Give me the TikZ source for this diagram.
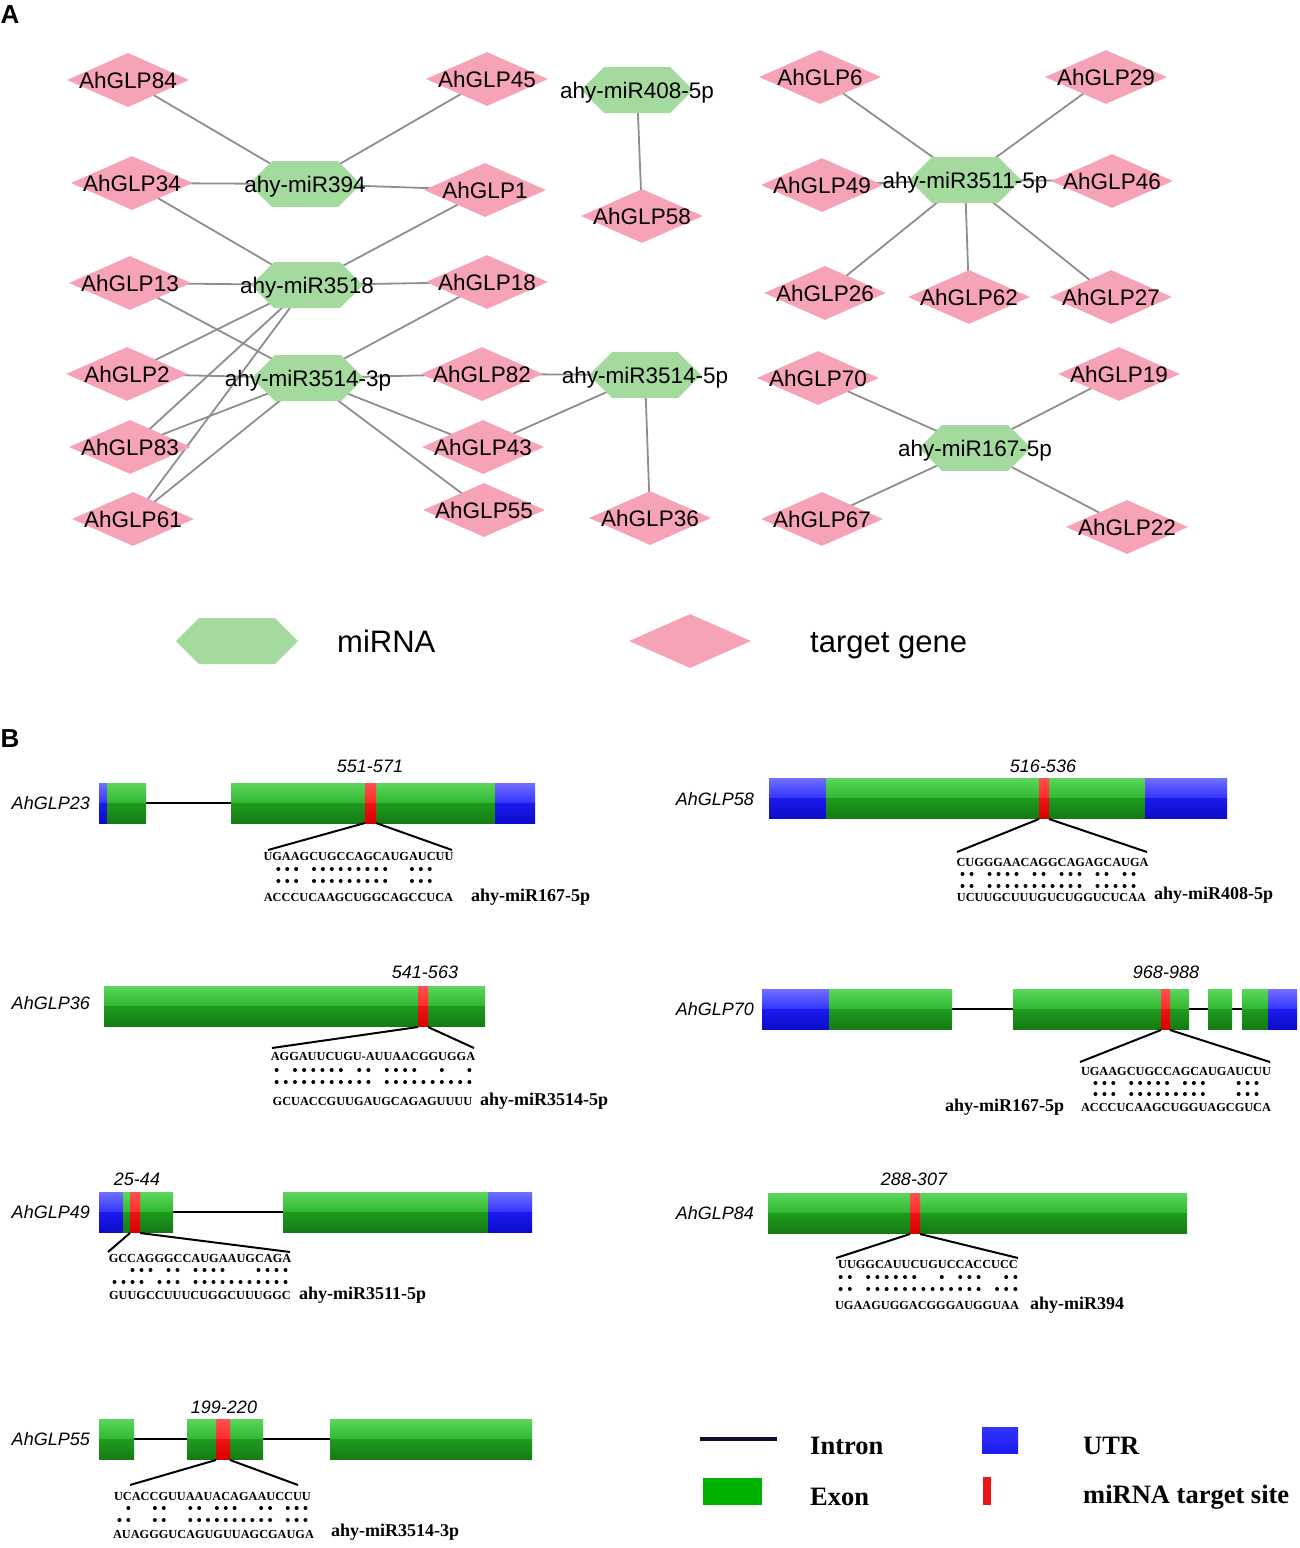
\documentclass[tikz,border=0pt]{standalone}
\usepackage{fontspec}
\setmainfont{Liberation Serif}
\setsansfont{Liberation Sans}
\usetikzlibrary{shapes.geometric,shapes.symbols}
\definecolor{pinkd}{HTML}{F7A3B7}
\definecolor{greenh}{HTML}{A5DA9F}
\definecolor{edgec}{HTML}{8E8E8E}
\definecolor{exA}{HTML}{5CD65C}
\definecolor{exB}{HTML}{30B830}
\definecolor{exC}{HTML}{1F9A1F}
\definecolor{exD}{HTML}{147C14}
\definecolor{utA}{HTML}{7070FF}
\definecolor{utB}{HTML}{3434FF}
\definecolor{utC}{HTML}{1A1AF0}
\definecolor{utD}{HTML}{0C0CC8}
\definecolor{rdA}{HTML}{FF5050}
\definecolor{rdB}{HTML}{FF2A2A}
\definecolor{rdC}{HTML}{EC1414}
\definecolor{rdD}{HTML}{D80000}
\definecolor{navyl}{HTML}{10102E}
\pgfdeclarelayer{bg}\pgfsetlayers{bg,main}
\newcommand\exon[3]{%
  \fill[top color=exA,bottom color=exB] (#1,#3) rectangle (#2,#3+20);
  \fill[top color=exC,bottom color=exD] (#1,#3+20) rectangle (#2,#3+40);}
\newcommand\utr[3]{%
  \fill[top color=utA,bottom color=utB] (#1,#3) rectangle (#2,#3+20);
  \fill[top color=utC,bottom color=utD] (#1,#3+20) rectangle (#2,#3+40);}
\newcommand\site[3]{%
  \fill[top color=rdA,bottom color=rdB] (#1,#3) rectangle (#2,#3+20);
  \fill[top color=rdC,bottom color=rdD] (#1,#3+20) rectangle (#2,#3+40);}
\newcommand\intron[3]{\draw[line width=2.4pt] (#1,#3+20) -- (#2,#3+20);}
\newcommand\dotrow[4]{\foreach \i in {#4} \fill ({#1+(\i-0.5)*#2},#3) circle (2.0);}
\newcommand\gnode[4]{\node[gene] (#1) at (#2,#3) {}; \node[lab] (#1t) at (#2,#3+8) {#4};}
\newcommand\mnode[4]{\node[mir] (#1) at (#2,#3) {}; \node[lab] (#1t) at (#2,#3+8) {#4};}
\begin{document}
\begin{tikzpicture}[x=1pt,y=-1pt,
  gene/.style={diamond, fill=pinkd, minimum width=122pt, minimum height=54pt, inner sep=0pt},
  mir/.style={signal, signal to=east and west, fill=greenh, minimum width=112pt, minimum height=46pt, inner sep=0pt},
  lab/.style={font=\sffamily\fontsize{22.5}{22.5}\selectfont, inner sep=0pt, anchor=base},
  edge/.style={draw=edgec, line width=1.8pt},
  panel/.style={font=\sffamily\bfseries\fontsize{26}{26}\selectfont, inner sep=0pt},
  legA/.style={font=\sffamily\fontsize{31}{31}\selectfont, inner sep=0pt, anchor=base west},
  glab/.style={font=\sffamily\itshape\fontsize{18}{18}\selectfont, inner sep=0pt},
  seqf/.style={font=\bfseries\fontsize{12.3}{12.3}\selectfont, inner sep=0pt},
  mirf/.style={font=\bfseries\fontsize{18}{18}\selectfont, inner sep=0pt},
  legB/.style={font=\bfseries\fontsize{26.5}{26.5}\selectfont, inner sep=0pt, anchor=west},
  sline/.style={line width=2pt}]
\useasboundingbox (0,0) rectangle (1299,1548);
\node[panel] (pA) at (10,15) {A};
\node[panel] (pB) at (10,739) {B};
% ---------- panel A ----------
\gnode{g84}{128}{80}{AhGLP84}
\gnode{g45}{487}{79}{AhGLP45}
\gnode{g34}{132}{183}{AhGLP34}
\gnode{g1}{485}{190}{AhGLP1}
\gnode{g13}{130}{283}{AhGLP13}
\gnode{g18}{487}{282}{AhGLP18}
\gnode{g2}{127}{374}{AhGLP2}
\gnode{g82}{482}{374}{AhGLP82}
\gnode{g83}{130}{447}{AhGLP83}
\gnode{g43}{483}{447}{AhGLP43}
\gnode{g61}{133}{519}{AhGLP61}
\gnode{g55}{484}{510}{AhGLP55}
\gnode{g58}{642}{216}{AhGLP58}
\gnode{g36}{650}{518}{AhGLP36}
\gnode{g6}{820}{77}{AhGLP6}
\gnode{g29}{1106}{77}{AhGLP29}
\gnode{g49}{822}{185}{AhGLP49}
\gnode{g46}{1112}{181}{AhGLP46}
\gnode{g26}{825}{293}{AhGLP26}
\gnode{g62}{969}{297}{AhGLP62}
\gnode{g27}{1111}{297}{AhGLP27}
\gnode{g70}{818}{378}{AhGLP70}
\gnode{g19}{1119}{374}{AhGLP19}
\gnode{g67}{822}{519}{AhGLP67}
\gnode{g22}{1127}{527}{AhGLP22}
\mnode{m394}{305}{184}{ahy-miR394}
\mnode{m3518}{307}{285}{ahy-miR3518}
\mnode{m3p}{308}{378}{ahy-miR3514-3p}
\mnode{m5p}{645}{375}{ahy-miR3514-5p}
\mnode{m408}{637}{90}{ahy-miR408-5p}
\mnode{m3511}{965}{180}{ahy-miR3511-5p}
\mnode{m167}{975}{448}{ahy-miR167-5p}
\begin{pgfonlayer}{bg}
\foreach \a/\b in {m394/g84,m394/g45,m394/g34,m394/g1,
  m3518/g34,m3518/g1,m3518/g13,m3518/g18,m3518/g2,m3518/g83,m3518/g61,
  m3p/g13,m3p/g18,m3p/g2,m3p/g82,m3p/g83,m3p/g61,m3p/g43,m3p/g55,
  m5p/g82,m5p/g43,m5p/g36,m408/g58,
  m3511/g6,m3511/g29,m3511/g49,m3511/g46,m3511/g26,m3511/g62,m3511/g27,
  m167/g70,m167/g19,m167/g67,m167/g22}
  \draw[edge] (\a.center) -- (\b.center);
\end{pgfonlayer}
% legend A
\node[mir, minimum width=122pt, minimum height=46pt] (lmir) at (237,641) {};
\node[legA] (lmirt) at (337,652) {miRNA};
\node[gene, minimum width=122pt, minimum height=54pt] (lgene) at (690,641) {};
\node[legA] (lgenet) at (810,652) {target gene};
% ---------- panel B ----------
% AhGLP23
\intron{146}{231}{783}
\utr{99}{107}{783}\exon{107}{146}{783}\exon{231}{495}{783}\utr{495}{535}{783}\site{365}{376}{783}
\node[glab, anchor=east] (l23) at (90,803) {AhGLP23};
\node[glab] (p23) at (370,766) {551-571};
\draw[sline] (365,823) -- (268,850); \draw[sline] (376,823) -- (452,850);
\node[seqf] (t23) at (358.5,856) {UGAAGCUGCCAGCAUGAUCUU};
\dotrow{265}{8.905}{869}{2,3,4,6,7,8,9,10,11,12,13,14,17,18,19}
\dotrow{265}{8.905}{881}{2,3,4,6,7,8,9,10,11,12,13,14,17,18,19}
\node[seqf] (b23) at (358.5,897) {ACCCUCAAGCUGGCAGCCUCA};
\node[mirf, anchor=west] (m23) at (471,897) {ahy-miR167-5p};
% AhGLP58
\utr{769}{826}{778}\exon{826}{1145}{778}\utr{1145}{1227}{778}\site{1039}{1049}{778}
\node[glab, anchor=east] (l58) at (754,799) {AhGLP58};
\node[glab] (p58) at (1043,766) {516-536};
\draw[sline] (1039,819) -- (957,852); \draw[sline] (1049,819) -- (1147,852);
\node[seqf] (t58) at (1052.5,862) {CUGGGAACAGGCAGAGCAUGA};
\dotrow{958}{9}{874}{1,2,4,5,6,7,9,10,12,13,14,16,17,19,20}
\dotrow{958}{9}{886}{1,2,4,5,6,7,8,9,10,11,12,13,14,16,17,18,19,20}
\node[seqf] (b58) at (1051.5,897) {UCUUGCUUUGUCUGGUCUCAA};
\node[mirf, anchor=west] (m58) at (1154,895) {ahy-miR408-5p};
% AhGLP36
\exon{104}{485}{986}\site{418}{428}{986}
\node[glab, anchor=east] (l36) at (90,1003) {AhGLP36};
\node[glab] (p36) at (425,972) {541-563};
\draw[sline] (418,1027) -- (272,1048); \draw[sline] (428,1027) -- (474,1048);
\node[seqf] (t36) at (373,1056) {AGGAUUCUGU-AUUAACGGUGGA};
\dotrow{272}{9.18}{1070}{1,3,4,5,6,7,8,10,11,13,14,15,16,19,22}
\dotrow{272}{9.18}{1082}{1,2,3,4,5,6,7,8,9,10,11,13,14,15,16,17,18,19,20,21,22}
\node[seqf] (b36) at (372.5,1101) {GCUACCGUUGAUGCAGAGUUUU};
\node[mirf, anchor=west] (m36) at (480,1101) {ahy-miR3514-5p};
% AhGLP70
\intron{829}{1268}{989}
\utr{762}{829}{989}\exon{829}{952}{989}\exon{1013}{1189}{989}\exon{1208}{1232}{989}\exon{1242}{1268}{989}\utr{1268}{1297}{989}\site{1161}{1170}{989}
\node[glab, anchor=east] (l70) at (754,1009) {AhGLP70};
\node[glab] (p70) at (1166,972) {968-988};
\draw[sline] (1161,1030) -- (1080,1062); \draw[sline] (1170,1030) -- (1270,1062);
\node[seqf] (t70) at (1176,1071) {UGAAGCUGCCAGCAUGAUCUU};
\dotrow{1082}{8.95}{1083}{2,3,4,6,7,8,9,10,12,13,14,18,19,20}
\dotrow{1082}{8.95}{1094}{2,3,4,6,7,8,9,10,11,12,13,14,18,19,20}
\node[seqf] (b70) at (1176,1107) {ACCCUCAAGCUGGUAGCGUCA};
\node[mirf, anchor=west] (m70) at (945,1107) {ahy-miR167-5p};
% AhGLP49
\intron{173}{283}{1192}
\utr{99}{123}{1192}\exon{123}{173}{1192}\exon{283}{488}{1192}\utr{488}{532}{1192}\site{130}{140}{1192}
\node[glab, anchor=east] (l49) at (90,1212) {AhGLP49};
\node[glab] (p49) at (137,1179) {25-44};
\draw[sline] (130,1233) -- (108,1252); \draw[sline] (140,1233) -- (290,1252);
\node[seqf] (t49) at (200,1258) {GCCAGGGCCAUGAAUGCAGA};
\dotrow{110}{9}{1270}{3,4,5,7,8,10,11,12,13,17,18,19,20}
\dotrow{110}{9}{1282}{1,2,3,4,6,7,8,10,11,12,13,14,15,16,17,18,19,20}
\node[seqf] (b49) at (200,1295) {GUUGCCUUUCUGGCUUUGGC};
\node[mirf, anchor=west] (m49) at (299,1295) {ahy-miR3511-5p};
% AhGLP84
\exon{768}{1187}{1193}\site{910}{920}{1193}
\node[glab, anchor=east] (l84) at (754,1213) {AhGLP84};
\node[glab] (p84) at (914,1179) {288-307};
\draw[sline] (910,1234) -- (836,1258); \draw[sline] (920,1234) -- (1018,1258);
\node[seqf] (t84) at (928,1264) {UUGGCAUUCUGUCCACCUCC};
\dotrow{836}{9.2}{1277}{1,2,4,5,6,7,8,9,12,14,15,16,19,20}
\dotrow{836}{9.2}{1289}{1,2,4,5,6,7,8,9,10,11,12,13,14,15,16,18,19,20}
\node[seqf] (b84) at (927,1305) {UGAAGUGGACGGGAUGGUAA};
\node[mirf, anchor=west] (m84) at (1030,1305) {ahy-miR394};
% AhGLP55
\intron{134}{330}{1419}
\exon{99}{134}{1419}\exon{187}{263}{1419}\exon{330}{532}{1419}\site{216}{230}{1419}
\node[glab, anchor=east] (l55) at (90,1439) {AhGLP55};
\node[glab] (p55) at (224,1407) {199-220};
\draw[sline] (216,1460) -- (130,1485); \draw[sline] (230,1460) -- (298,1485);
\node[seqf] (t55) at (212.5,1496) {UCACCGUUAAUACAGAAUCCUU};
\dotrow{115}{8.86}{1508}{2,5,6,9,10,12,13,14,17,18,20,21,22}
\dotrow{115}{8.86}{1520}{1,2,5,6,9,10,11,12,13,14,15,16,17,18,20,21,22}
\node[seqf] (b55) at (213.5,1534) {AUAGGGUCAGUGUUAGCGAUGA};
\node[mirf, anchor=west] (m55) at (331,1532) {ahy-miR3514-3p};
% legend B
\draw[line width=4pt, navyl] (700,1439) -- (777,1439);
\node[legB] (lint) at (810,1446) {Intron};
\fill[top color=utB,bottom color=utC] (982,1427) rectangle (1018,1453);
\node[legB] (lutr) at (1083,1446) {UTR};
\fill[color=green!70!black] (703,1478) rectangle (762,1505);
\node[legB] (lexon) at (810,1497) {Exon};
\fill[rdC] (983,1477) rectangle (991,1505);
\node[legB] (lsite) at (1083,1497) {miRNA target site};
\end{tikzpicture}
\end{document}
